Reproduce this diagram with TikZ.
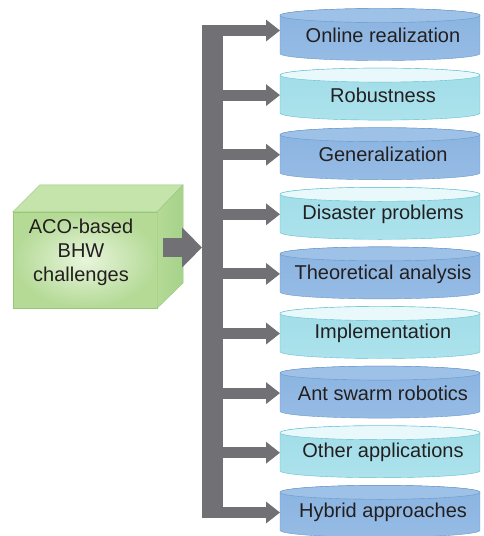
\documentclass[tikz,border=0pt]{standalone}
\usepackage{fontspec}
\setmainfont{Liberation Sans}
\usetikzlibrary{arrows.meta}

\definecolor{arrowgray}{RGB}{112,112,117}
\definecolor{textgray}{RGB}{35,31,32}
\definecolor{blueedge}{RGB}{106,152,201}
\definecolor{bluetop}{RGB}{157,193,231}
\definecolor{bluebodyA}{RGB}{138,179,224}
\definecolor{bluebodyB}{RGB}{202,221,243}
\definecolor{bluebodyC}{RGB}{150,188,229}
\definecolor{cyanedge}{RGB}{95,192,209}
\definecolor{cyantop}{RGB}{232,248,251}
\definecolor{cyanbodyA}{RGB}{160,221,232}
\definecolor{cyanbodyB}{RGB}{214,242,246}
\definecolor{cyanbodyC}{RGB}{172,226,236}
\definecolor{greenedge}{RGB}{150,200,120}
\definecolor{greenlight}{RGB}{232,245,220}
\definecolor{greenmid}{RGB}{180,218,150}
\definecolor{greentop}{RGB}{196,228,172}
\definecolor{greenside}{RGB}{166,210,138}

\tikzset{
  label text/.style={font=\fontsize{20}{24}\selectfont, text=textgray},
  spine/.style={draw=arrowgray, line width=21pt},
  branch/.style={draw=arrowgray, line width=11pt, -{Triangle[length=14pt,width=21pt]}},
  feed/.style={draw=arrowgray, line width=19pt, -{Triangle[length=20pt,width=39pt]}},
  front face/.style={draw=greenedge, inner color=greenlight, outer color=greenmid,
    minimum width=144pt, minimum height=96pt, inner sep=0pt},
}

\begin{document}
\begin{tikzpicture}[x=1pt,y=1pt]
  \useasboundingbox (0,0) rectangle (483,-536);

  % cylinders
  \foreach \lab [count=\i from 0] in {Online realization, Robustness, Generalization,
      Disaster problems, Theoretical analysis, Implementation, Ant swarm robotics,
      Other applications, Hybrid approaches}{
    \ifodd\i
      \colorlet{cedge}{cyanedge}\colorlet{ctop}{cyantop}
      \colorlet{cA}{cyanbodyA}\colorlet{cB}{cyanbodyB}\colorlet{cC}{cyanbodyC}
    \else
      \colorlet{cedge}{blueedge}\colorlet{ctop}{bluetop}
      \colorlet{cA}{bluebodyA}\colorlet{cB}{bluebodyB}\colorlet{cC}{bluebodyC}
    \fi
    \pgfmathsetmacro{\t}{-8.5-59.6*\i}
    \pgfmathsetmacro{\ay}{\i==0 ? -30.5 : (\i==8 ? -512.5 : \t-27)}
    \draw[cedge, top color=cA, middle color=cB, bottom color=cC]
      (280,\t-7) -- (280,\t-45)
      arc[start angle=180, end angle=360, x radius=100pt, y radius=7pt]
      -- (480,\t-7)
      arc[start angle=0, end angle=180, x radius=100pt, y radius=7pt] -- cycle;
    \draw[cedge, fill=ctop] (380,\t-7) ellipse [x radius=100pt, y radius=7pt];
    \node[label text] (c\i) at (383,\t-27) {\lab};
    \coordinate (e\i) at (280,\ay);
  }

  % spine and branches
  \coordinate (s-top) at (212.5,-25);
  \coordinate (s-bot) at (212.5,-518);
  \draw[spine] (s-top) -- (s-bot);
  \foreach \i in {0,...,8}
    \draw[branch] (s-top |- e\i) -- (e\i);

  % green box
  \node[front face] (chal) at (85,-260) {};
  \draw[greenedge, fill=greentop] (chal.north west) -- ++(27,27) -- ++(143,0)
    -- (chal.north east) -- cycle;
  \draw[greenedge, left color=greenmid, right color=greenside] (chal.north east)
    -- ++(26,27) -- ++(0,-98) -- (chal.south east) -- cycle;
  \node[label text, align=center] (chaltext) at ([xshift=-4pt,yshift=8pt]chal.center)
    {ACO-based\\BHW\\challenges};

  \coordinate (spine in) at (202,-247.5);
  \draw[feed] ([xshift=6pt]chal.east |- spine in) -- (spine in);
\end{tikzpicture}
\end{document}
